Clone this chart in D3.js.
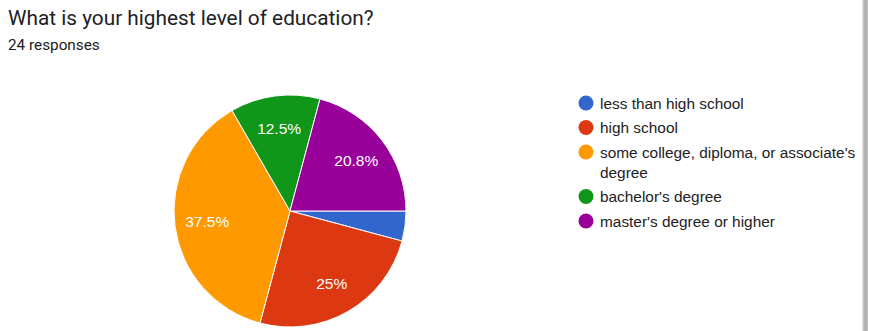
<!DOCTYPE html>
<html>
<head>
<meta charset="utf-8">
<script src="https://cdn.jsdelivr.net/npm/d3@7"></script>
<style>
  body { margin: 0; background: #fff; }
  svg { display: block; }
</style>
</head>
<body>
<svg id="chart" width="869" height="331"></svg>
<script>
var categories = ["less than high school", "high school", "some college, diploma, or associate's degree", "bachelor's degree", "master's degree or higher"];
var counts = [1, 6, 9, 3, 5];
var colors = ["#3366cc", "#dc3912", "#ff9900", "#109618", "#990099"];
var title = "What is your highest level of education?";
var subtitle = "24 responses";

var svg = d3.select("#chart");
var cx = 290, cy = 211, radius = 116;

svg.append("text")
  .attr("x", 8).attr("y", 25)
  .attr("font-family", "Roboto, Arial, sans-serif")
  .attr("font-size", 20.8)
  .attr("fill", "#202124")
  .text(title);

svg.append("text")
  .attr("x", 8).attr("y", 50)
  .attr("font-family", "Roboto, Arial, sans-serif")
  .attr("font-size", 15.3)
  .attr("fill", "#202124")
  .text(subtitle);

var total = d3.sum(counts);
var pie = d3.pie().sort(null).startAngle(Math.PI / 2).endAngle(Math.PI / 2 + 2 * Math.PI);
var arcs = pie(counts);
var arc = d3.arc().innerRadius(0).outerRadius(radius);
var labelArc = d3.arc().innerRadius(radius * 0.72).outerRadius(radius * 0.72);

var g = svg.append("g").attr("transform", "translate(" + cx + "," + cy + ")");

g.selectAll("path")
  .data(arcs)
  .enter().append("path")
  .attr("d", arc)
  .attr("fill", function(d, i) { return colors[i]; })
  .attr("stroke", "#fff")
  .attr("stroke-width", 1);

g.selectAll("text.lbl")
  .data(arcs.filter(function(d) { return d.value / total >= 0.05; }))
  .enter().append("text")
  .attr("class", "lbl")
  .attr("transform", function(d) { return "translate(" + labelArc.centroid(d) + ")"; })
  .attr("text-anchor", "middle")
  .attr("dy", "0.36em")
  .attr("font-family", "Arial, 'Liberation Sans', sans-serif")
  .attr("font-size", 15.5)
  .attr("fill", "#fff")
  .text(function(d) {
    var p = d.value / total * 100;
    return (Math.round(p * 10) / 10) + "%";
  });

// legend
var legendLines = [["less than high school"], ["high school"], ["some college, diploma, or associate's", "degree"], ["bachelor's degree"], ["master's degree or higher"]];
var y = 103;
var legend = svg.append("g");
categories.forEach(function(c, i) {
  legend.append("circle")
    .attr("cx", 586).attr("cy", y)
    .attr("r", 7.5)
    .attr("fill", colors[i]);
  legendLines[i].forEach(function(line, j) {
    legend.append("text")
      .attr("x", 600).attr("y", y + j * 20)
      .attr("dy", "0.36em")
      .attr("font-family", "Arial, 'Liberation Sans', sans-serif")
      .attr("font-size", 15.4)
      .attr("fill", "#222")
      .text(line);
  });
  y += 24.5 + (legendLines[i].length - 1) * 20;
});

// right edge shadow
var grad = svg.append("defs").append("linearGradient").attr("id", "edge");
grad.append("stop").attr("offset", "0%").attr("stop-color", "#e0e0e0");
grad.append("stop").attr("offset", "60%").attr("stop-color", "#a8a8a8");
grad.append("stop").attr("offset", "100%").attr("stop-color", "#c8c8c8");
svg.append("rect").attr("x", 862).attr("y", 0).attr("width", 6).attr("height", 331).attr("fill", "url(#edge)");
</script>
</body>
</html>
